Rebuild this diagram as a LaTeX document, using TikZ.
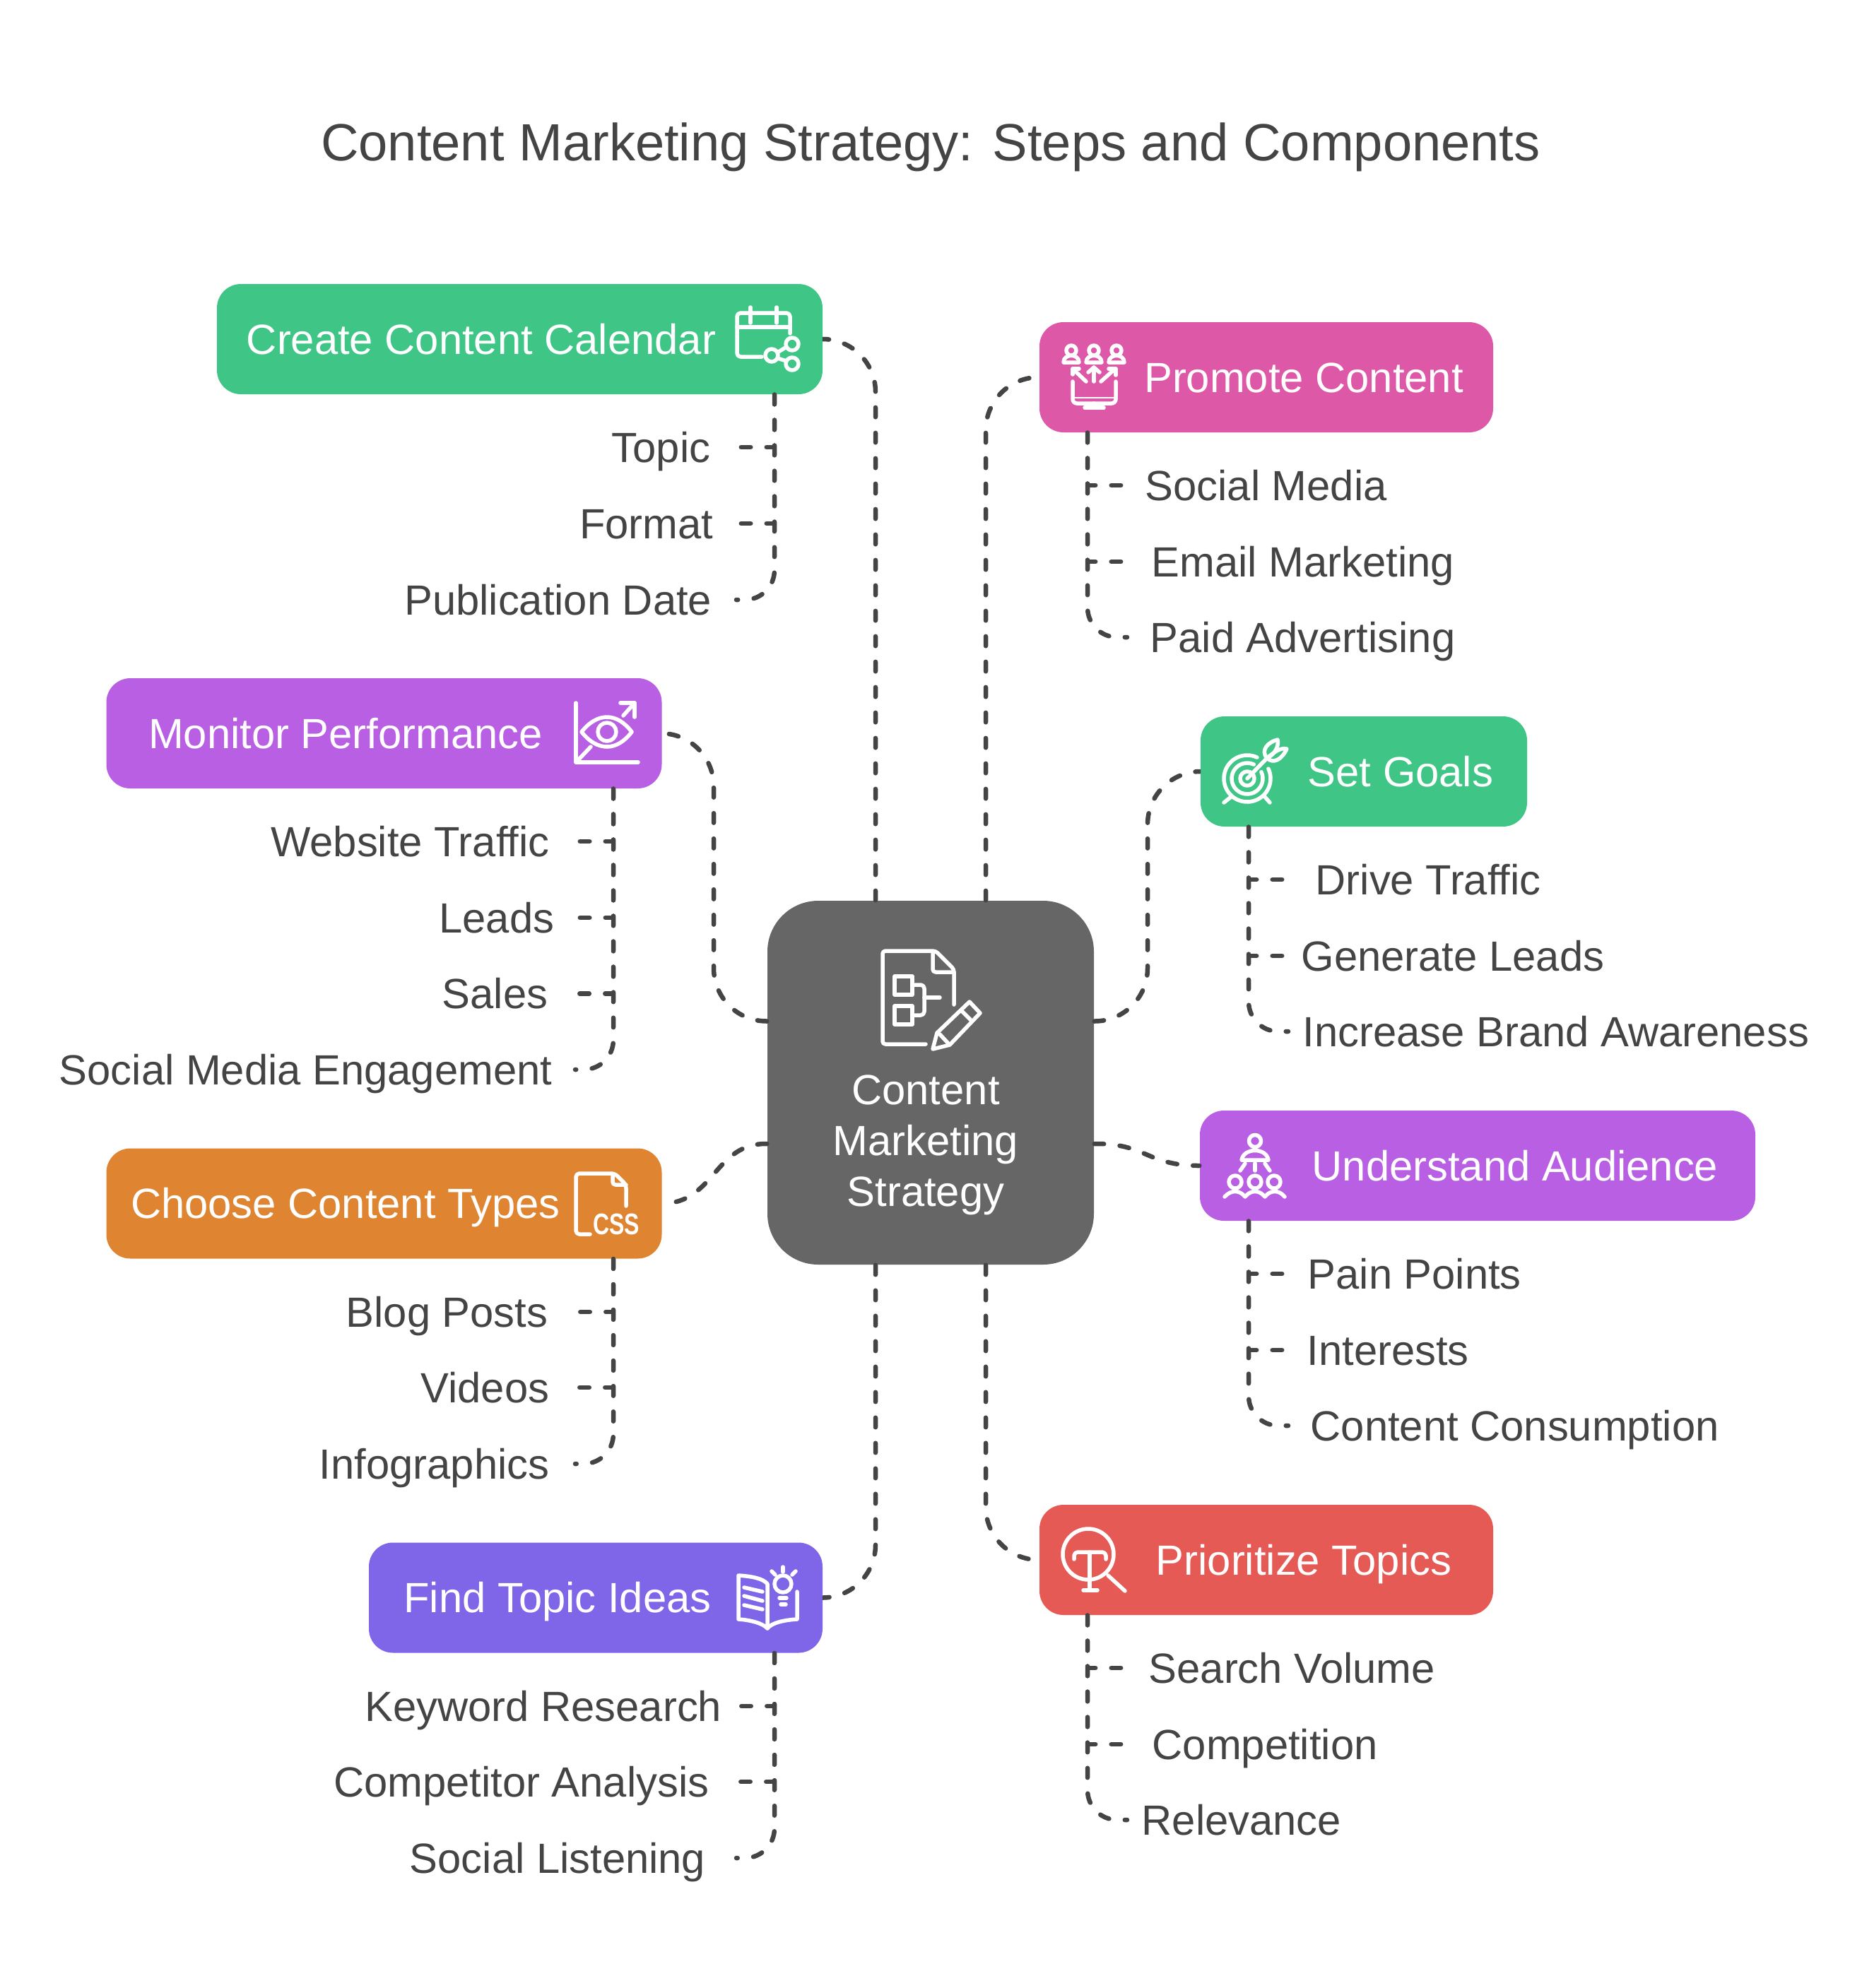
\documentclass[tikz,border=0pt]{standalone}
\usepackage{fontspec}
\setmainfont{Liberation Sans}
\usepackage{xcolor}
\usetikzlibrary{positioning,calc}

\definecolor{inkgray}{HTML}{444444}
\definecolor{hubgray}{HTML}{666666}
\definecolor{leafgreen}{HTML}{3FC686}
\definecolor{rosepink}{HTML}{DE58A8}
\definecolor{violet}{HTML}{B85FE3}
\definecolor{amber}{HTML}{DF8531}
\definecolor{indigo}{HTML}{7F66E8}
\definecolor{coral}{HTML}{E55A55}

\tikzset{
    headbox/.style={rounded corners=.34cm, minimum height=1.56cm, inner sep=0pt},
    headtext/.style={text=white, font=\fontsize{17}{20}\selectfont, inner sep=0pt, text height=12.2pt, text depth=0pt},
    sublabel/.style={text=inkgray, font=\fontsize{17}{20}\selectfont, inner ysep=0pt, text height=12.2pt, text depth=0pt},
    link/.style={draw=inkgray, line width=.065cm, line cap=round, dash pattern=on .135cm off .225cm},
    lastlink/.style={link, rounded corners=.42cm},
    icon/.style={draw=white, line width=.055cm, line cap=round, line join=round}
}

\begin{document}
\begin{tikzpicture}[y=-1cm]
    \useasboundingbox (0,0) rectangle (26.34,28.14);

    \node[text=inkgray, font=\fontsize{21.1}{25}\selectfont] (title) at (13.17,2.08) {Content Marketing Strategy: Steps and Components};

    \node[fill=hubgray, rounded corners=.72cm, minimum width=4.62cm, minimum height=5.15cm] (hub) at (13.17,15.325) {};
    \node[text=white, align=center, font=\fontsize{17}{20.5}\selectfont] (hubtext) at (13.10,16.21) {Content\\Marketing\\Strategy};

    \node[headbox, fill=leafgreen, minimum width=8.57cm] (calendar) at (7.355,4.80) {};
    \node[headbox, fill=rosepink, minimum width=6.42cm] (promote) at (17.92,5.34) {};
    \node[headbox, fill=violet, minimum width=7.86cm] (monitor) at (5.435,10.38) {};
    \node[headbox, fill=leafgreen, minimum width=4.62cm] (goals) at (19.30,10.92) {};
    \node[headbox, fill=amber, minimum width=7.86cm] (types) at (5.435,17.035) {};
    \node[headbox, fill=violet, minimum width=7.86cm] (audience) at (20.91,16.50) {};
    \node[headbox, fill=indigo, minimum width=6.42cm] (ideas) at (8.43,22.615) {};
    \node[headbox, fill=coral, minimum width=6.42cm] (topics) at (17.92,22.08) {};

    \node[headtext] (calendartext) at (6.81,4.80) {Create Content Calendar};
    \node[headtext] (promotetext) at (18.45,5.34) {Promote Content};
    \node[headtext] (monitortext) at (4.89,10.38) {Monitor Performance};
    \node[headtext] (goalstext) at (19.82,10.92) {Set Goals};
    \node[headtext] (typestext) at (4.89,17.03) {Choose Content Types};
    \node[headtext] (audiencetext) at (21.44,16.50) {Understand Audience};
    \node[headtext] (ideastext) at (7.89,22.61) {Find Topic Ideas};
    \node[headtext] (topicstext) at (18.45,22.08) {Prioritize Topics};

    \foreach \name/\xpos/\ypos/\gap/\txt in {
        topic/10.42/6.33/.36/Topic, format/10.42/7.41/.32/Format, pubdate/10.42/8.49/.34/Publication Date,
        traffic/8.14/11.91/.36/Website Traffic, leads/8.14/12.99/.29/Leads, sales/8.14/14.065/.38/Sales, engagement/8.14/15.14/.32/Social Media Engagement,
        blog/8.14/18.57/.38/Blog Posts, videos/8.14/19.64/.36/Videos, infographics/8.14/20.72/.36/Infographics,
        keyword/10.42/24.15/.20/Keyword Research, competitor/10.42/25.22/.38/Competitor Analysis, listening/10.42/26.30/.43/Social Listening}
        \node[sublabel, anchor=east, inner xsep=\gap cm] (\name) at (\xpos,\ypos) {\txt};

    \foreach \name/\xpos/\ypos/\gap/\txt in {
        social/15.95/6.87/.25/Social Media, email/15.95/7.95/.34/Email Marketing, paid/15.95/9.02/.32/Paid Advertising,
        drive/18.23/12.45/.38/Drive Traffic, generate/18.23/13.53/.18/Generate Leads, awareness/18.23/14.60/.20/Increase Brand Awareness,
        pain/18.23/18.03/.27/Pain Points, interests/18.23/19.11/.26/Interests, consumption/18.23/20.18/.31/Content Consumption,
        volume/15.95/23.61/.30/Search Volume, competition/15.95/24.69/.35/Competition, relevance/15.95/25.76/.20/Relevance}
        \node[sublabel, anchor=west, inner xsep=\gap cm] (\name) at (\xpos,\ypos) {\txt};

    \draw[link, rounded corners=.75cm] ([xshift=-.78cm]hub.north) |- (calendar.east);
    \draw[link, rounded corners=.75cm] ([xshift=.78cm]hub.north) |- (promote.west);
    \draw[link, rounded corners=.75cm] ([yshift=.87cm]hub.west) -| (10.10,12.0) |- (monitor.east);
    \draw[link, rounded corners=.75cm] ([yshift=.87cm]hub.east) -| (16.24,12.5) |- (goals.west);
    \draw[link] ([yshift=-.865cm]hub.west) .. controls (10.11,16.18) and (10.11,17.03) .. (types.east);
    \draw[link] ([yshift=-.865cm]hub.east) .. controls (16.22,16.18) and (16.22,16.50) .. (audience.west);
    \draw[link, rounded corners=.75cm] ([xshift=-.78cm]hub.south) |- (ideas.east);
    \draw[link, rounded corners=.75cm] ([xshift=.78cm]hub.south) |- (topics.west);

    \foreach \lab in {topic,format} \draw[link] ([xshift=3.605cm]calendar.south) |- (\lab.east);
    \draw[lastlink] ([xshift=3.605cm]calendar.south) |- (pubdate.east);
    \foreach \lab in {traffic,leads,sales} \draw[link] ([xshift=3.245cm]monitor.south) |- (\lab.east);
    \draw[lastlink] ([xshift=3.245cm]monitor.south) |- (engagement.east);
    \foreach \lab in {blog,videos} \draw[link] ([xshift=3.245cm]types.south) |- (\lab.east);
    \draw[lastlink] ([xshift=3.245cm]types.south) |- (infographics.east);
    \foreach \lab in {keyword,competitor} \draw[link] ([xshift=2.53cm]ideas.south) |- (\lab.east);
    \draw[lastlink] ([xshift=2.53cm]ideas.south) |- (listening.east);

    \foreach \lab in {social,email} \draw[link] ([xshift=-2.53cm]promote.south) |- (\lab.west);
    \draw[lastlink] ([xshift=-2.53cm]promote.south) |- (paid.west);
    \foreach \lab in {drive,generate} \draw[link] ([xshift=-1.63cm]goals.south) |- (\lab.west);
    \draw[lastlink] ([xshift=-1.63cm]goals.south) |- (awareness.west);
    \foreach \lab in {pain,interests} \draw[link] ([xshift=-3.24cm]audience.south) |- (\lab.west);
    \draw[lastlink] ([xshift=-3.24cm]audience.south) |- (consumption.west);
    \foreach \lab in {volume,competition} \draw[link] ([xshift=-2.53cm]topics.south) |- (\lab.west);
    \draw[lastlink] ([xshift=-2.53cm]topics.south) |- (relevance.west);

    \draw[icon, rounded corners=.04cm] (13.10,14.78) -- (12.49,14.78) -- (12.49,13.46) -- (13.24,13.46) -- (13.50,13.72) -- (13.50,14.22);
    \draw[icon, rounded corners=.04cm] (13.20,13.48) -- (13.20,13.76) -- (13.50,13.76);
    \draw[icon] (12.66,13.82) rectangle (12.91,14.08);
    \draw[icon] (12.66,14.24) rectangle (12.91,14.50);
    \draw[icon, rounded corners=.05cm] (12.91,13.94) -- (13.08,13.94) -- (13.08,14.37) -- (12.91,14.37);
    \draw[icon] (13.08,14.12) -- (13.30,14.12);
    \draw[icon] (13.20,14.85) -- (13.26,14.62) -- (13.72,14.18) -- (13.87,14.34) -- (13.44,14.79) -- cycle;
    \draw[icon] (13.62,14.32) -- (13.75,14.45);
    \draw[icon] (13.30,14.64) -- (13.42,14.77);

    \draw[icon, rounded corners=.05cm] (11.18,4.72) -- (11.18,4.43) -- (10.43,4.43) -- (10.43,5.05) -- (10.78,5.05);
    \draw[icon] (10.43,4.63) -- (11.18,4.63);
    \draw[icon] (10.62,4.35) -- (10.62,4.57);
    \draw[icon] (10.99,4.35) -- (10.99,4.57);
    \draw[icon] (10.92,5.03) circle (.09);
    \draw[icon] (11.21,4.87) circle (.09);
    \draw[icon] (11.21,5.15) circle (.09);
    \draw[icon] (11.00,4.99) -- (11.13,4.91);
    \draw[icon] (11.00,5.07) -- (11.13,5.11);

    \foreach \xpos in {15.16,15.48,15.80} {
        \draw[icon] (\xpos,4.96) circle (.07);
        \draw[icon] ($(\xpos,5.13)+(-.11,0)$) .. controls ($(\xpos,5.00)+(-.11,0)$) and ($(\xpos,5.00)+(.11,0)$) .. ($(\xpos,5.13)+(.11,0)$) -- cycle;
    }
    \draw[icon] (15.37,5.40) -- (15.18,5.22);
    \draw[icon] (15.18,5.30) -- (15.18,5.22) -- (15.27,5.22);
    \draw[icon] (15.48,5.40) -- (15.48,5.20);
    \draw[icon] (15.40,5.27) -- (15.48,5.20) -- (15.56,5.27);
    \draw[icon] (15.58,5.40) -- (15.78,5.22);
    \draw[icon] (15.69,5.22) -- (15.79,5.22) -- (15.79,5.31);
    \draw[icon, rounded corners=.06cm] (15.18,5.40) -- (15.18,5.71) -- (15.79,5.71) -- (15.79,5.40);
    \draw[line width=.02cm, draw=white] (15.18,5.63) -- (15.79,5.63);
    \draw[icon] (15.48,5.71) -- (15.48,5.77);
    \draw[icon] (15.35,5.77) -- (15.62,5.77);

    \draw[icon] (8.15,9.95) -- (8.15,10.79) -- (9.03,10.79);
    \draw[icon] (8.18,10.76) -- (8.36,10.57);
    \draw[icon] (8.82,10.13) -- (8.98,9.95);
    \draw[icon] (8.78,9.95) -- (8.98,9.95) -- (8.98,10.15);
    \draw[icon] (8.23,10.36) .. controls (8.45,10.08) and (8.73,10.08) .. (8.94,10.36) .. controls (8.73,10.64) and (8.45,10.64) .. cycle;
    \draw[icon] (8.59,10.36) circle (.13);

    \draw[icon] (17.65,11.02) ++(-25:.33) arc[start angle=-25, end angle=295, radius=.33];
    \draw[icon] (17.65,11.02) ++(-25:.22) arc[start angle=-25, end angle=295, radius=.22];
    \draw[icon] (17.65,11.02) circle (.10);
    \draw[icon] (17.32,11.36) -- (17.42,11.28);
    \draw[icon] (17.97,11.36) -- (17.90,11.28);
    \draw[icon] (17.65,11.02) -- (17.93,10.73);
    \draw[icon] (17.93,10.73) .. controls (17.83,10.62) and (17.95,10.50) .. (18.08,10.47) .. controls (18.10,10.56) and (18.04,10.68) .. cycle;
    \draw[icon] (17.93,10.73) .. controls (18.02,10.82) and (18.14,10.75) .. (18.21,10.60) .. controls (18.12,10.58) and (18.04,10.64) .. cycle;

    \draw[icon, rounded corners=.05cm] (8.35,17.47) -- (8.15,17.47) -- (8.15,16.61) -- (8.70,16.61) -- (8.86,16.77) -- (8.86,17.07);
    \draw[icon, rounded corners=.04cm] (8.67,16.63) -- (8.67,16.77) -- (8.86,16.77);
    \node[text=white, font=\fontsize{12}{14}\selectfont\bfseries, xscale=.76, inner sep=0pt] (cssmark) at (8.72,17.33) {CSS};

    \draw[icon] (17.76,16.15) circle (.085);
    \draw[icon] (17.57,16.42) .. controls (17.60,16.24) and (17.92,16.24) .. (17.95,16.42) -- cycle;
    \draw[icon] (17.55,16.57) -- (17.62,16.47);
    \draw[icon] (17.76,16.47) -- (17.76,16.57);
    \draw[icon] (17.90,16.47) -- (17.97,16.57);
    \foreach \xpos in {17.48,17.76,18.03} \draw[icon] (\xpos,16.73) circle (.09);
    \draw[icon] (17.33,16.94) .. controls (17.42,16.84) and (17.54,16.84) .. (17.62,16.94) .. controls (17.70,16.84) and (17.82,16.84) .. (17.90,16.94) .. controls (17.98,16.84) and (18.10,16.84) .. (18.18,16.94);

    \draw[icon] (15.40,22.00) circle (.36);
    \draw[icon, rounded corners=.05cm] (15.20,22.07) -- (15.20,21.97) -- (15.65,21.97) -- (15.65,22.07);
    \draw[icon] (15.42,21.97) -- (15.42,22.51);
    \draw[icon] (15.33,22.51) -- (15.53,22.51);
    \draw[icon] (15.68,22.30) -- (15.92,22.52);

    \draw[icon] (10.45,22.30) .. controls (10.62,22.31) and (10.80,22.34) .. (10.86,22.42) -- (10.86,23.05) .. controls (10.80,22.98) and (10.62,22.93) .. (10.45,22.92) -- cycle;
    \draw[icon] (10.86,23.05) .. controls (10.92,22.97) and (11.10,22.93) .. (11.28,22.92) -- (11.28,22.53);
    \draw[icon] (10.53,22.47) -- (10.79,22.53);
    \draw[icon] (10.53,22.59) -- (10.79,22.66);
    \draw[icon] (10.53,22.72) -- (10.79,22.78);
    \draw[icon] (11.08,22.42) circle (.12);
    \draw[icon] (11.03,22.62) -- (11.13,22.62);
    \draw[icon] (11.05,22.71) -- (11.12,22.71);
    \draw[icon] (11.08,22.18) -- (11.08,22.25);
    \draw[icon] (10.92,22.24) -- (10.97,22.29);
    \draw[icon] (11.26,22.24) -- (11.21,22.29);
\end{tikzpicture}
\end{document}
